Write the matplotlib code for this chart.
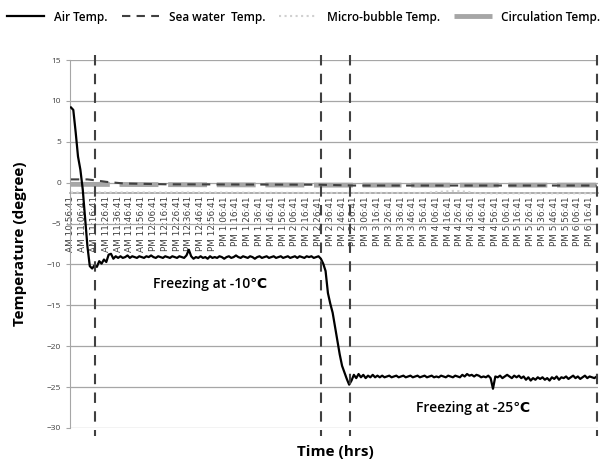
import matplotlib
matplotlib.use("Agg")
import matplotlib.pyplot as plt
import numpy as np

plt.rcParams['font.family'] = ['Open Sans', 'DejaVu Sans']

# sample time in minutes from AM 10:56:41, every 2 minutes
air_time = np.arange(0, 448, 2)
air_temp = [
    9.2, 8.9, 6.2, 3.2, 1.6, -0.8, -4.3, -7.8, -10.2, -10.5,
    -10.1, -10.3, -9.6, -9.9, -9.4, -9.7, -8.8, -8.7, -9.3, -9.0, -9.2,
    -9.0, -9.2, -9.1, -8.9, -9.2, -9.0, -9.1, -9.2, -9.0, -9.1,
    -9.2, -9.0, -9.1, -8.9, -9.1, -9.2, -9.0, -9.1, -9.2, -9.0,
    -9.1, -9.2, -9.0, -9.1, -9.2, -9.0, -9.1, -9.2, -8.9, -8.2,
    -9.0, -9.3, -9.1, -9.2, -9.0, -9.2, -9.1, -9.3, -9.0, -9.2,
    -9.1, -9.2, -9.0, -9.1, -9.3, -9.1, -9.0, -9.2, -9.1, -8.9,
    -9.1, -9.2, -9.0, -9.1, -9.2, -9.0, -9.1, -9.3, -9.1, -9.0,
    -9.2, -9.1, -9.0, -9.2, -9.1, -9.0, -9.2, -9.1, -9.0, -9.2,
    -9.1, -9.0, -9.2, -9.1, -9.0, -9.2, -9.0, -9.1, -9.2, -9.0,
    -9.1, -9.0, -9.2, -9.1, -9.0,
    -9.3, -9.9, -10.8, -13.5, -14.8, -15.9, -17.6, -19.3, -21.0, -22.4,
    -23.2, -24.0, -24.7, -24.2, -23.5,
    -23.9, -23.4, -23.8, -23.5, -23.9, -23.6, -23.8, -23.5, -23.8, -23.6,
    -23.8, -23.6, -23.8, -23.7, -23.6, -23.8, -23.7, -23.6, -23.8, -23.7,
    -23.6, -23.8, -23.7, -23.6, -23.8, -23.7, -23.6, -23.8, -23.7, -23.6,
    -23.8, -23.7, -23.6, -23.8, -23.7, -23.8, -23.6, -23.7, -23.8, -23.6,
    -23.7, -23.8, -23.6, -23.7, -23.8, -23.5, -23.7, -23.4, -23.6, -23.5,
    -23.7, -23.5, -23.6, -23.8, -23.7, -23.8, -23.6, -23.9, -25.2, -23.7,
    -23.8, -23.6, -23.9, -23.7, -23.5, -23.7, -23.9, -23.6, -23.8, -23.6,
    -23.9, -23.7, -24.1, -23.8, -24.2, -23.9, -24.1, -23.8, -24.0, -23.8,
    -24.1, -23.9, -24.2, -23.8, -24.0, -23.7, -24.1, -23.8, -23.9, -23.7,
    -24.0, -23.8, -23.6, -23.9, -23.7, -24.0, -23.8, -23.6, -23.9, -23.7,
    -23.8, -23.9, -23.7,
]

sea_time = [0, 14, 20, 30, 45, 80, 210, 240, 446]
sea_temp = [0.4, 0.4, 0.3, 0.1, -0.1, -0.2, -0.25, -0.35, -0.35]

bubble_time = [0, 100, 200, 300, 325, 335, 345, 446]
bubble_temp = [-1.2, -1.2, -1.25, -1.25, -1.0, -1.1, -1.3, -1.3]

circ_time = [0, 100, 220, 446]
circ_temp = [-0.2, -0.25, -0.3, -0.3]

# phase boundaries (minutes)
phase_marks = [20, 212, 237, 446.5]

tick_minutes = list(range(0, 450, 10))
tick_labels = []
for m in tick_minutes:
    total = 10 * 60 + 56 + m
    h, mm = divmod(total, 60)
    ampm = "AM" if h < 12 else "PM"
    h12 = h if h <= 12 else h - 12
    tick_labels.append("%s %d:%02d:41" % (ampm, h12, mm))

fig = plt.figure(figsize=(6.07, 4.63), dpi=100)
ax = fig.add_axes([0.1153, 0.0756, 0.8697, 0.7948])

ax.plot(air_time, air_temp, color='black', lw=1.6, label='Air Temp.', zorder=5)
ax.plot(sea_time, sea_temp, color='#404040', lw=1.5, dashes=(4, 3), label='Sea water  Temp.', zorder=4)
ax.plot(bubble_time, bubble_temp, color='#d0d0d0', lw=1.5, ls=':', label='Micro-bubble Temp.', zorder=3)
ax.plot(circ_time, circ_temp, color='#a6a6a6', lw=3.5, dashes=(8, 2), label='Circulation Temp.', zorder=2)

for xm in phase_marks:
    ax.plot([xm, xm], [15.6, -31.0], color='#404040', lw=1.5, dashes=(5, 4), clip_on=False, zorder=6)

ax.set_xlim(-0.8, 447)
ax.set_ylim(-30, 15)
ax.set_yticks(range(-30, 16, 5))
ax.yaxis.grid(True, color='#a6a6a6', lw=0.9)
ax.set_axisbelow(True)

ax.spines['top'].set_visible(False)
ax.spines['right'].set_visible(False)
ax.spines['left'].set_color('#a6a6a6')
ax.spines['bottom'].set_position(('data', -1.3))
ax.spines['bottom'].set_color('#a0a0a0')
ax.spines['bottom'].set_linewidth(1.2)

ax.set_xticks(tick_minutes)
ax.set_xticklabels(tick_labels, rotation=90, fontsize=6.4, color='#404040', family='DejaVu Sans')
ax.tick_params(axis='x', length=0, pad=2)
ax.tick_params(axis='y', labelsize=6, colors='#404040', length=3)
ax.tick_params(axis='y', color='#a6a6a6')

ax.text(118, -12.4, "Freezing at -10℃", fontsize=10, fontweight='semibold', ha='center', va='center')
ax.text(341, -27.6, "Freezing at -25℃", fontsize=10, fontweight='semibold', ha='center', va='center')

ax.set_ylabel("Temperature (degree)", fontsize=11, fontweight='bold', labelpad=14)
fig.text(0.552, 0.024, "Time (hrs)", fontsize=11, fontweight='bold', ha='center', va='center')

fig.legend(loc='upper center', bbox_to_anchor=(0.5, 1.0), ncol=4, frameon=False,
           handlelength=3.2, columnspacing=1.2, handletextpad=0.8,
           prop={'weight': 'semibold', 'size': 8.5})

fig.savefig("out.png", dpi=100)
